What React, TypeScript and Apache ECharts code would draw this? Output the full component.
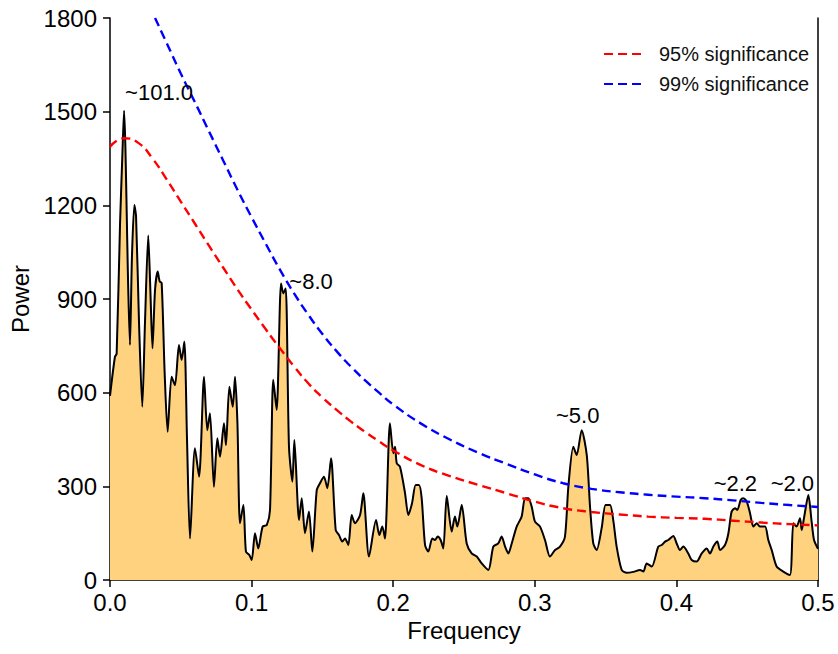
import React, { useEffect, useRef } from "react";
import * as echarts from "echarts";

// Periodogram (frequency, power)
const freq: number[] = [
  0, 0.0035, 0.0047, 0.0071, 0.0087, 0.0099, 0.0129, 0.0141, 0.0155, 0.0172, 0.0184, 0.0205, 0.0228, 0.0247,
  0.027, 0.0285, 0.03, 0.0318, 0.0337, 0.0351, 0.0365, 0.0386, 0.0407, 0.0435, 0.0459, 0.0487, 0.0506, 0.0525,
  0.0544, 0.0565, 0.06, 0.0629, 0.0664, 0.0687, 0.0706, 0.0734, 0.0758, 0.0777, 0.0805, 0.0819, 0.0843, 0.0867,
  0.0883, 0.09, 0.0918, 0.0942, 0.096, 0.0984, 0.1001, 0.1024, 0.1047, 0.1078, 0.1107, 0.113, 0.1153, 0.1177,
  0.1208, 0.1224, 0.1241, 0.1264, 0.1288, 0.1302, 0.1335, 0.1354, 0.1377, 0.1405, 0.1429, 0.146, 0.1483, 0.1511,
  0.1535, 0.1561, 0.1594, 0.1617, 0.1641, 0.166, 0.1683, 0.1707, 0.173, 0.1766, 0.1789, 0.1829, 0.1879, 0.1902,
  0.1923, 0.1942, 0.1977, 0.2001, 0.2013, 0.2025, 0.2048, 0.2083, 0.2107, 0.2133, 0.2159, 0.2182, 0.2201, 0.2225,
  0.2248, 0.2276, 0.2295, 0.2314, 0.2335, 0.2354, 0.2378, 0.2413, 0.2436, 0.2453, 0.2484, 0.2519, 0.2554, 0.259,
  0.2625, 0.2672, 0.2707, 0.2742, 0.2766, 0.279, 0.2813, 0.2837, 0.2872, 0.2907, 0.2931, 0.2954, 0.2978, 0.3001,
  0.3037, 0.3072, 0.3107, 0.3143, 0.3178, 0.3213, 0.3237, 0.3272, 0.3296, 0.3331, 0.3367, 0.339, 0.3413, 0.3437,
  0.3472, 0.35, 0.3531, 0.3554, 0.3578, 0.3614, 0.3649, 0.3696, 0.3743, 0.3767, 0.379, 0.3826, 0.3872, 0.3896,
  0.392, 0.3943, 0.3978, 0.4002, 0.4025, 0.4049, 0.4084, 0.4108, 0.4143, 0.4179, 0.4214, 0.4237, 0.4261, 0.4289,
  0.4308, 0.4343, 0.4367, 0.439, 0.4414, 0.443, 0.4454, 0.4473, 0.4497, 0.452, 0.4543, 0.4567, 0.459, 0.4626,
  0.4649, 0.4673, 0.4708, 0.4755, 0.4802, 0.4826, 0.4849, 0.4873, 0.4885, 0.4901, 0.4932, 0.4955, 0.4972, 0.5,
];
const power: number[] = [
  590, 715, 725, 1143, 1356, 1503, 929, 753, 1036, 1201, 1164, 823, 555, 823,
  1103, 929, 742, 929, 988, 956, 951, 663, 475, 651, 624, 753, 705, 763,
  448, 133, 422, 331, 651, 480, 534, 299, 454, 395, 502, 432, 619, 555,
  651, 502, 182, 240, 91, 80, 64, 150, 101, 171, 176, 224, 641, 545,
  950, 918, 934, 427, 315, 448, 192, 262, 150, 219, 91, 288, 310, 331,
  294, 390, 160, 144, 123, 133, 112, 208, 182, 208, 278, 75, 192, 144,
  171, 133, 502, 406, 427, 374, 363, 280, 208, 246, 304, 304, 262, 112,
  91, 133, 128, 139, 128, 101, 270, 155, 203, 171, 240, 117, 85, 75,
  53, 32, 107, 117, 139, 107, 85, 117, 171, 203, 262, 262, 235, 187,
  171, 128, 75, 96, 107, 139, 299, 427, 400, 480, 400, 235, 117, 96,
  166, 240, 240, 192, 107, 32, 23, 26, 32, 27, 53, 43, 107, 112,
  123, 128, 141, 117, 96, 107, 85, 64, 59, 85, 101, 85, 107, 123,
  96, 112, 149, 219, 230, 224, 256, 262, 251, 214, 171, 182, 171, 171,
  128, 96, 43, 27, 16, 182, 171, 198, 160, 198, 272, 187, 128, 100,
];

// 95% significance curve
const sig95Freq: number[] = [0, 0.01, 0.02, 0.03, 0.04, 0.05, 0.06, 0.07, 0.08, 0.09, 0.1, 0.11, 0.12, 0.13, 0.14, 0.15, 0.16, 0.17, 0.18, 0.19, 0.2, 0.22, 0.24, 0.26, 0.28, 0.3, 0.32, 0.34, 0.36, 0.38, 0.4, 0.42, 0.44, 0.46, 0.48, 0.5];
const sig95Power: number[] = [1388, 1415, 1400, 1350, 1283, 1212, 1141, 1070, 1000, 931, 866, 803, 742, 684, 630, 585, 545, 508, 475, 444, 415, 367, 333, 305, 278, 251, 230, 218, 210, 203, 199, 196, 190, 184, 179, 175];

// 99% significance curve
const sig99Freq: number[] = [0.0318, 0.04, 0.05, 0.06, 0.07, 0.08, 0.09, 0.1, 0.11, 0.12, 0.13, 0.14, 0.15, 0.16, 0.17, 0.18, 0.19, 0.2, 0.22, 0.24, 0.26, 0.28, 0.3, 0.32, 0.34, 0.36, 0.38, 0.4, 0.42, 0.44, 0.46, 0.48, 0.5];
const sig99Power: number[] = [1800, 1720, 1622, 1530, 1436, 1343, 1250, 1162, 1077, 994, 918, 850, 788, 733, 684, 640, 600, 562, 500, 450, 408, 372, 338, 310, 292, 281, 273, 267, 262, 255, 247, 240, 234];

// Period annotations
const annotationFreq: number[] = [0.0099, 0.1208, 0.3331, 0.4473, 0.4932];
const annotationPower: number[] = [1503, 950, 480, 262, 272];
const annotationText: string[] = ["~101.0", "~8.0", "~5.0", "~2.2", "~2.0"];
const annotationOffset: number[][] = [[35, -18], [30, -2], [-4, -15], [-8, -15], [-16, -12]];

const xTicks = { min: 0, max: 0.5, interval: 0.1 };
const yTicks = { min: 0, max: 1800, interval: 300 };

const FONT = "'Liberation Sans', Arial, Helvetica, sans-serif";

export default function App() {
  const ref = useRef<HTMLDivElement>(null);
  useEffect(() => {
    document.body.style.margin = "0";
    const chart = echarts.init(ref.current!, undefined, { renderer: "svg" });
    const zip = (a: number[], b: number[]) => a.map((v, i) => [v, b[i]]);
    chart.setOption({
      animation: false,
      textStyle: { fontFamily: FONT },
      grid: { left: 110, right: 20, top: 18, bottom: 74 },
      legend: {
        data: ["95% significance", "99% significance"],
        orient: "vertical",
        left: 598,
        top: 38,
        itemWidth: 40,
        itemHeight: 14,
        itemGap: 8,
        itemStyle: { opacity: 0 },
        textStyle: { fontSize: 20, color: "#111", fontFamily: FONT, lineHeight: 22, padding: [0, 0, 0, 10] },
      },
      xAxis: {
        type: "value",
        min: xTicks.min,
        max: xTicks.max,
        interval: xTicks.interval,
        name: "Frequency",
        nameLocation: "middle",
        nameGap: 36,
        nameTextStyle: { fontSize: 24, color: "#000", fontFamily: FONT },
        axisLine: { show: true, onZero: false, lineStyle: { color: "#000", width: 1.5 } },
        axisTick: { show: true, length: 7, lineStyle: { color: "#000", width: 1.5 } },
        axisLabel: { fontSize: 24, color: "#000", margin: 10, formatter: (v: number) => v.toFixed(1), fontFamily: FONT },
        splitLine: { show: false },
      },
      yAxis: [
        {
          type: "value",
          min: yTicks.min,
          max: yTicks.max,
          interval: yTicks.interval,
          name: "Power",
          nameLocation: "middle",
          nameGap: 78,
          nameTextStyle: { fontSize: 24, color: "#000", fontFamily: FONT },
          axisLine: { show: true, lineStyle: { color: "#000", width: 1.5 } },
          axisTick: { show: true, length: 7, lineStyle: { color: "#000", width: 1.5 } },
          axisLabel: { fontSize: 24, color: "#000", margin: 13, fontFamily: FONT, formatter: (v: number) => String(v) },
          splitLine: { show: false },
        },
        {
          type: "value",
          position: "right",
          min: yTicks.min,
          max: yTicks.max,
          interval: yTicks.interval,
          axisLine: { show: true, lineStyle: { color: "#000", width: 1.5 } },
          axisTick: { show: false },
          axisLabel: { show: false },
          splitLine: { show: false },
        },
      ],
      series: [
        {
          name: "Power spectrum",
          type: "line",
          data: zip(freq, power),
          symbol: "none",
          smooth: 0.25,
          lineStyle: { color: "#000", width: 2 },
          areaStyle: { color: "#FFD280", opacity: 1 },
          z: 2,
        },
        {
          name: "95% significance",
          type: "line",
          data: zip(sig95Freq, sig95Power),
          symbol: "none",
          smooth: true,
          color: "#FF0000",
          lineStyle: { color: "#FF0000", width: 2.4, type: [9, 5] },
          z: 3,
        },
        {
          name: "99% significance",
          type: "line",
          data: zip(sig99Freq, sig99Power),
          symbol: "none",
          smooth: true,
          color: "#0000FF",
          lineStyle: { color: "#0000FF", width: 2.4, type: [9, 5] },
          z: 3,
        },
        {
          name: "annotations",
          type: "scatter",
          symbolSize: 1,
          itemStyle: { color: "transparent" },
          z: 5,
          data: annotationFreq.map((f, i) => ({
            value: [f, annotationPower[i]],
            label: {
              show: true,
              formatter: annotationText[i],
              position: "inside",
              offset: annotationOffset[i],
              fontSize: 22,
              color: "#000",
              opacity: 1,
              textBorderWidth: 0,
              fontFamily: FONT,
            },
          })),
        },
      ],
    });
    return () => chart.dispose();
  }, []);
  return <div ref={ref} style={{ width: 838, height: 654 }} />;
}
